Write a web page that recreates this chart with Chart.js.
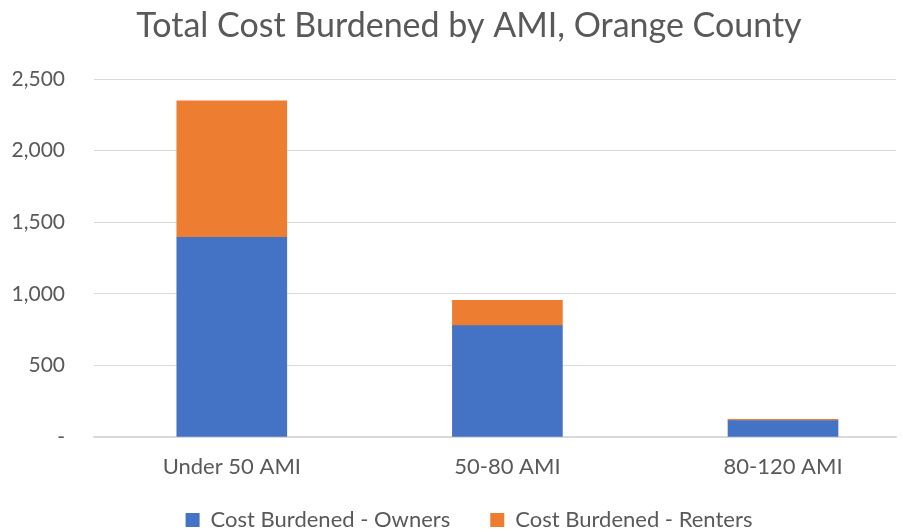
<!DOCTYPE html>
<html>
<head>
<meta charset="utf-8">
<title>Total Cost Burdened by AMI, Orange County</title>
<script src="https://cdn.jsdelivr.net/npm/chart.js@4"></script>
<style>
    body { margin: 0; background: #ffffff; overflow: hidden; }
    #myChart { display: block; }
</style>
</head>
<body>
<canvas id="myChart" width="903" height="532"></canvas>
<script>
var categories = ['Under 50 AMI', '50-80 AMI', '80-120 AMI'];
var owners = [1395, 778, 115];
var renters = [952, 177, 9];
var yTicks = [0, 500, 1000, 1500, 2000, 2500];

var textColor = '#595959';
var gridColor = '#d9d9d9';
var fontFamily = 'Lato, "Open Sans", sans-serif';

function toPoints(values) {
    return values.map(function (v, i) { return { x: i, y: v }; });
}

function yLabel(value) {
    return value === 0 ? '-' : value.toLocaleString('en-US');
}

var ctx = document.getElementById('myChart').getContext('2d');

// widest y label, so the mirrored labels can be right aligned left of the plot
ctx.font = '21px ' + fontFamily;
var widest = Math.max.apply(null, yTicks.map(function (v) { return ctx.measureText(yLabel(v)).width; }));

var chart = new Chart(ctx, {
    type: 'bar',
    data: {
        datasets: [{
            label: 'Cost Burdened - Owners',
            data: toPoints(owners),
            backgroundColor: '#4472C4',
            borderWidth: 0,
            barThickness: 110
        }, {
            label: 'Cost Burdened - Renters',
            data: toPoints(renters),
            backgroundColor: '#ED7D31',
            borderWidth: 0,
            barThickness: 110
        }]
    },
    options: {
        responsive: false,
        animation: false,
        layout: {
            padding: { left: 42, right: 7, top: 0, bottom: 0 }
        },
        plugins: {
            title: {
                display: true,
                text: 'Total Cost Burdened by AMI, Orange County',
                color: textColor,
                font: { family: fontFamily, size: 34, weight: 'normal' },
                padding: { top: 6, bottom: 32.2 }
            },
            legend: {
                position: 'bottom',
                maxHeight: 63,
                labels: {
                    color: textColor,
                    font: { family: fontFamily, size: 22 },
                    boxWidth: 14,
                    boxHeight: 14,
                    padding: 40
                }
            },
            tooltip: { enabled: false }
        },
        scales: {
            x: {
                type: 'linear',
                stacked: true,
                offset: false,
                min: -0.5,
                max: 2.41,
                afterBuildTicks: function (scale) {
                    scale.ticks = categories.map(function (c, i) { return { value: i }; });
                },
                afterFit: function (scale) {
                    scale.height = 32;
                },
                ticks: {
                    color: textColor,
                    font: { family: fontFamily, size: 22 },
                    mirror: true,
                    padding: -43,
                    maxRotation: 0,
                    callback: function (value) { return categories[value]; }
                },
                grid: { display: false, drawTicks: false },
                border: { display: true, color: gridColor, width: 1.5 }
            },
            y: {
                stacked: true,
                min: 0,
                max: 2500,
                afterBuildTicks: function (scale) {
                    scale.ticks = yTicks.map(function (v) { return { value: v }; });
                },
                afterFit: function (scale) {
                    scale.width = 52;
                },
                ticks: {
                    color: textColor,
                    font: { family: fontFamily, size: 21 },
                    mirror: true,
                    crossAlign: 'far',
                    padding: 65 - 94 - widest,
                    callback: yLabel
                },
                grid: { color: gridColor, lineWidth: 1, drawTicks: false },
                border: { display: false }
            }
        }
    }
});
</script>
</body>
</html>
